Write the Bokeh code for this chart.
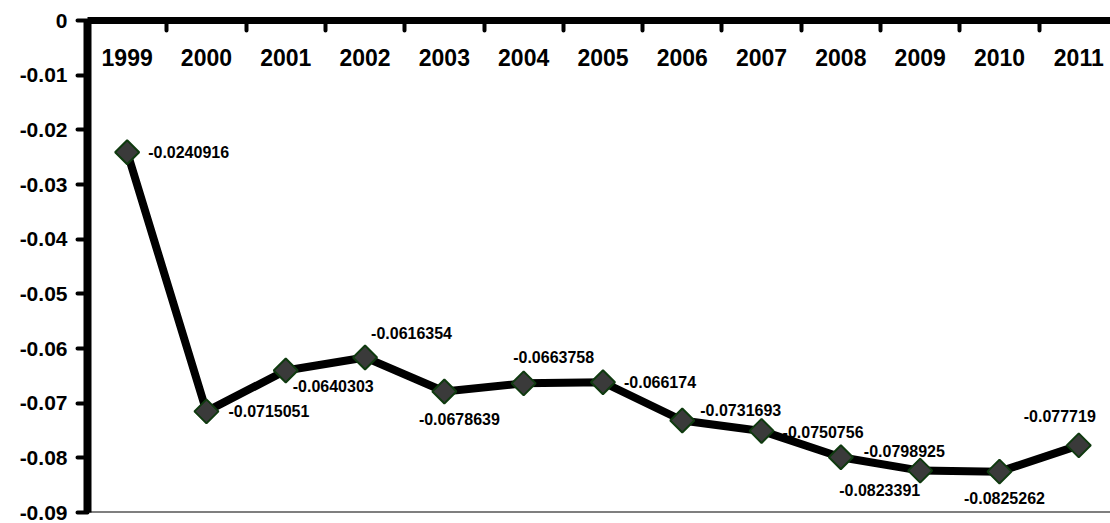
import math
from bokeh.plotting import figure
from bokeh.models import (ColumnDataSource, Range1d, FixedTicker, LinearAxis,
                          CustomJSTickFormatter, Span)
from bokeh.core.properties import value
from bokeh.embed import file_html
from bokeh.resources import INLINE

# ---- data ----
years = ["1999", "2000", "2001", "2002", "2003", "2004", "2005",
         "2006", "2007", "2008", "2009", "2010", "2011"]
values = [-0.0240916, -0.0715051, -0.0640303, -0.0616354, -0.0678639,
          -0.0663758, -0.066174, -0.0731693, -0.0750756, -0.0798925,
          -0.0823391, -0.0825262, -0.077719]
labels = ["-0.0240916", "-0.0715051", "-0.0640303", "-0.0616354", "-0.0678639",
          "-0.0663758", "-0.066174", "-0.0731693", "-0.0750756", "-0.0798925",
          "-0.0823391", "-0.0825262", "-0.077719"]
y_ticks = [0, -0.01, -0.02, -0.03, -0.04, -0.05, -0.06, -0.07, -0.08, -0.09]

# label placement (style): (align, x offset px, y offset px)
placement = [("left", 21, 0), ("left", 22, 0), ("left", 7, 15), ("left", 6, -24),
             ("center", 15, 28), ("center", 30, -26), ("left", 21, 0),
             ("left", 18, -10), ("left", 21, 1), ("left", 23, -6),
             ("right", 0, 19), ("center", 5, 26), ("center", -19, -29)]

FONT = "Liberation Sans"
idx = list(range(len(years)))

src = ColumnDataSource(dict(
    x=idx, y=values, lab=labels,
    align=[p[0] for p in placement],
    xo=[p[1] for p in placement],
    yo=[p[2] for p in placement],
))
ysrc = ColumnDataSource(dict(x=idx, y=[0] * len(years), t=years))

p = figure(width=1110, height=523, output_backend="svg", toolbar_location=None,
           x_range=Range1d(-0.5, 12.4), y_range=Range1d(-0.09, 0),
           x_axis_location=None, y_axis_location=None,
           min_border_left=87, min_border_right=0, min_border_top=20,
           min_border_bottom=11)
p.outline_line_color = None
p.xgrid.visible = False
p.ygrid.visible = False
p.background_fill_color = "white"

# left axis
yax = LinearAxis(ticker=FixedTicker(ticks=y_ticks),
                 formatter=CustomJSTickFormatter(code="return Math.abs(tick) < 1e-9 ? '0' : tick.toFixed(2);"))
yax.axis_line_width = 8
yax.axis_line_color = "black"
yax.major_tick_line_width = 4
yax.major_tick_line_cap = "round"
yax.major_tick_out = 10
yax.major_tick_in = 0
yax.minor_tick_line_color = None
yax.major_label_standoff = 10
yax.major_label_text_font = FONT
yax.major_label_text_font_style = "bold"
yax.major_label_text_font_size = "21px"
yax.major_label_text_color = "black"
p.add_layout(yax, "left")

# top axis at y = 0 with ticks between categories (no labels)
xax = LinearAxis(ticker=FixedTicker(ticks=[i + 0.5 for i in idx]),
                 formatter=CustomJSTickFormatter(code="return '';"))
xax.axis_line_width = 7
xax.axis_line_color = "black"
xax.major_tick_line_width = 4
xax.major_tick_line_cap = "round"
xax.major_tick_in = 10
xax.major_tick_out = 0
xax.minor_tick_line_color = None
xax.major_label_standoff = 0
xax.major_label_text_font_size = "10px"
p.add_layout(xax, "above")

# thin bottom border
p.add_layout(Span(location=-0.09, dimension="width", line_color="black", line_width=2))

# year labels under the top axis
p.text(x="x", y="y", text="t", source=ysrc, y_offset=37,
       text_font=value(FONT), text_font_style="bold", text_font_size="23px",
       text_align="center", text_baseline="middle", text_color="black")

# series
p.line(x="x", y="y", source=src, line_color="black", line_width=8,
       line_join="round")
p.scatter(x="x", y="y", source=src, marker="square", angle=math.pi / 4,
          size=17, fill_color="#3a3a3a", line_color="#0f3a0f", line_width=2)

# data labels
p.text(x="x", y="y", text="lab", source=src, x_offset="xo", y_offset="yo",
       text_align="align", text_baseline="middle",
       text_font=value(FONT), text_font_style="bold", text_font_size="16px",
       text_color="black")

open("out.html", "w").write(file_html(p, INLINE))
